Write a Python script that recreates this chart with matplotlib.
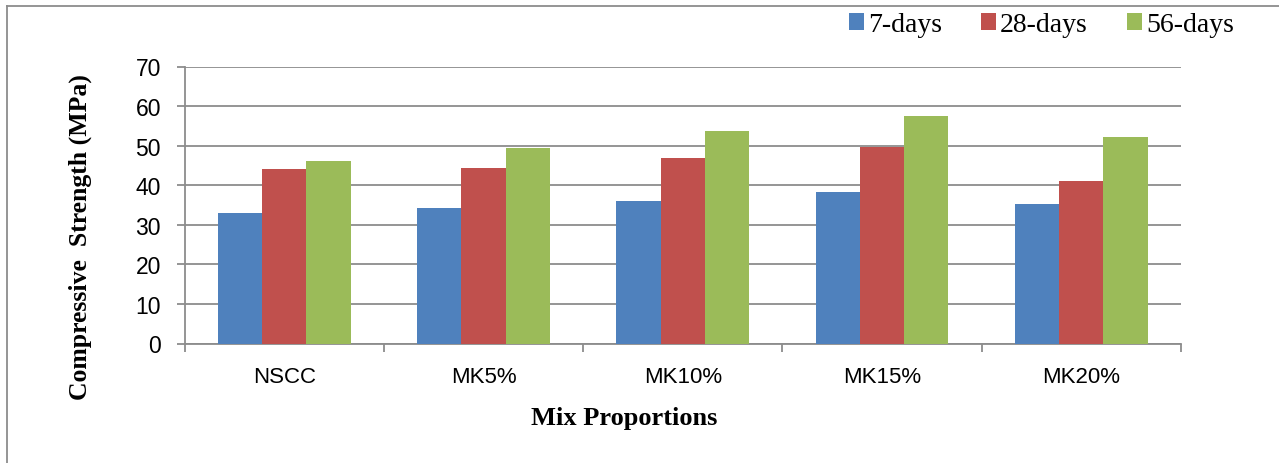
import matplotlib
matplotlib.use("Agg")
import matplotlib.pyplot as plt
from matplotlib.lines import Line2D
import numpy as np

categories = ["NSCC", "MK5%", "MK10%", "MK15%", "MK20%"]
series_names = ["7-days", "28-days", "56-days"]
days7 = [33.0, 34.2, 36.0, 38.3, 35.3]
days28 = [44.2, 44.4, 46.8, 49.6, 41.0]
days56 = [46.0, 49.4, 53.7, 57.4, 52.2]
colors = ["#4F81BD", "#C0504D", "#9BBB59"]
yticks = [0, 10, 20, 30, 40, 50, 60, 70]

W, H = 1279, 464
fig = plt.figure(figsize=(W / 100, H / 100), dpi=100)
ax = fig.add_axes([184.5 / W, 1 - 344.5 / H, (1181 - 184.5) / W, (344.5 - 67.5) / H])

x = np.arange(len(categories))
bw = 1 / 4.5
handles = []
for j, (vals, c, name) in enumerate(zip([days7, days28, days56], colors, series_names)):
    b = ax.bar(x + (j - 1) * bw, vals, width=bw, color=c, label=name, zorder=3,
               edgecolor="none")
    handles.append(b)

grid_c = "#8C8C8C"
ax.set_ylim(0, 70)
ax.set_xlim(-0.5, len(categories) - 0.5)
ax.set_yticks(yticks)
ax.set_yticklabels([str(v) for v in yticks], family="Liberation Sans", fontsize=16.5)
ax.yaxis.grid(True, color=grid_c, linewidth=1.3, zorder=0)
ax.set_axisbelow(True)
ax.tick_params(axis="y", length=6, width=1.3, color=grid_c, pad=11)

ax.set_xticks(x)
ax.set_xticklabels(categories, family="Liberation Sans", fontsize=16)
ax.set_xticks(np.arange(len(categories) + 1) - 0.5, minor=True)
ax.tick_params(axis="x", which="major", length=0, pad=16)
ax.tick_params(axis="x", which="minor", length=6, width=1.3, color=grid_c)

for s in ["top", "right"]:
    ax.spines[s].set_visible(False)
for s in ["left", "bottom"]:
    ax.spines[s].set_color(grid_c)
    ax.spines[s].set_linewidth(1.3)

fig.text(80 / W, 1 - 237.5 / H, "Compressive  Strength (MPa)", rotation=90,
         ha="center", va="center", family="Liberation Serif", fontweight="bold",
         fontsize=18.5)
fig.text(624 / W, 1 - 425 / H, "Mix Proportions", ha="center", va="baseline",
         family="Liberation Serif", fontweight="bold", fontsize=19)

fs = 20
leg = fig.legend(handles=handles, labels=series_names, loc="center left",
                 bbox_to_anchor=(849 / W, 1 - 26 / H), ncol=3, frameon=False,
                 prop={"family": "Liberation Serif", "size": fs},
                 handlelength=0.54, handleheight=0.54, handletextpad=0.15,
                 columnspacing=1.4, borderpad=0, borderaxespad=0)

# chart-area border (top and left visible)
fig.add_artist(Line2D([7 / W, 1], [1 - 7 / H, 1 - 7 / H], color="#8C8C8C", lw=1.3,
                      transform=fig.transFigure))
fig.add_artist(Line2D([7 / W, 7 / W], [0, 1 - 7 / H], color="#8C8C8C", lw=1.3,
                      transform=fig.transFigure))

fig.savefig("out.png", dpi=100)
